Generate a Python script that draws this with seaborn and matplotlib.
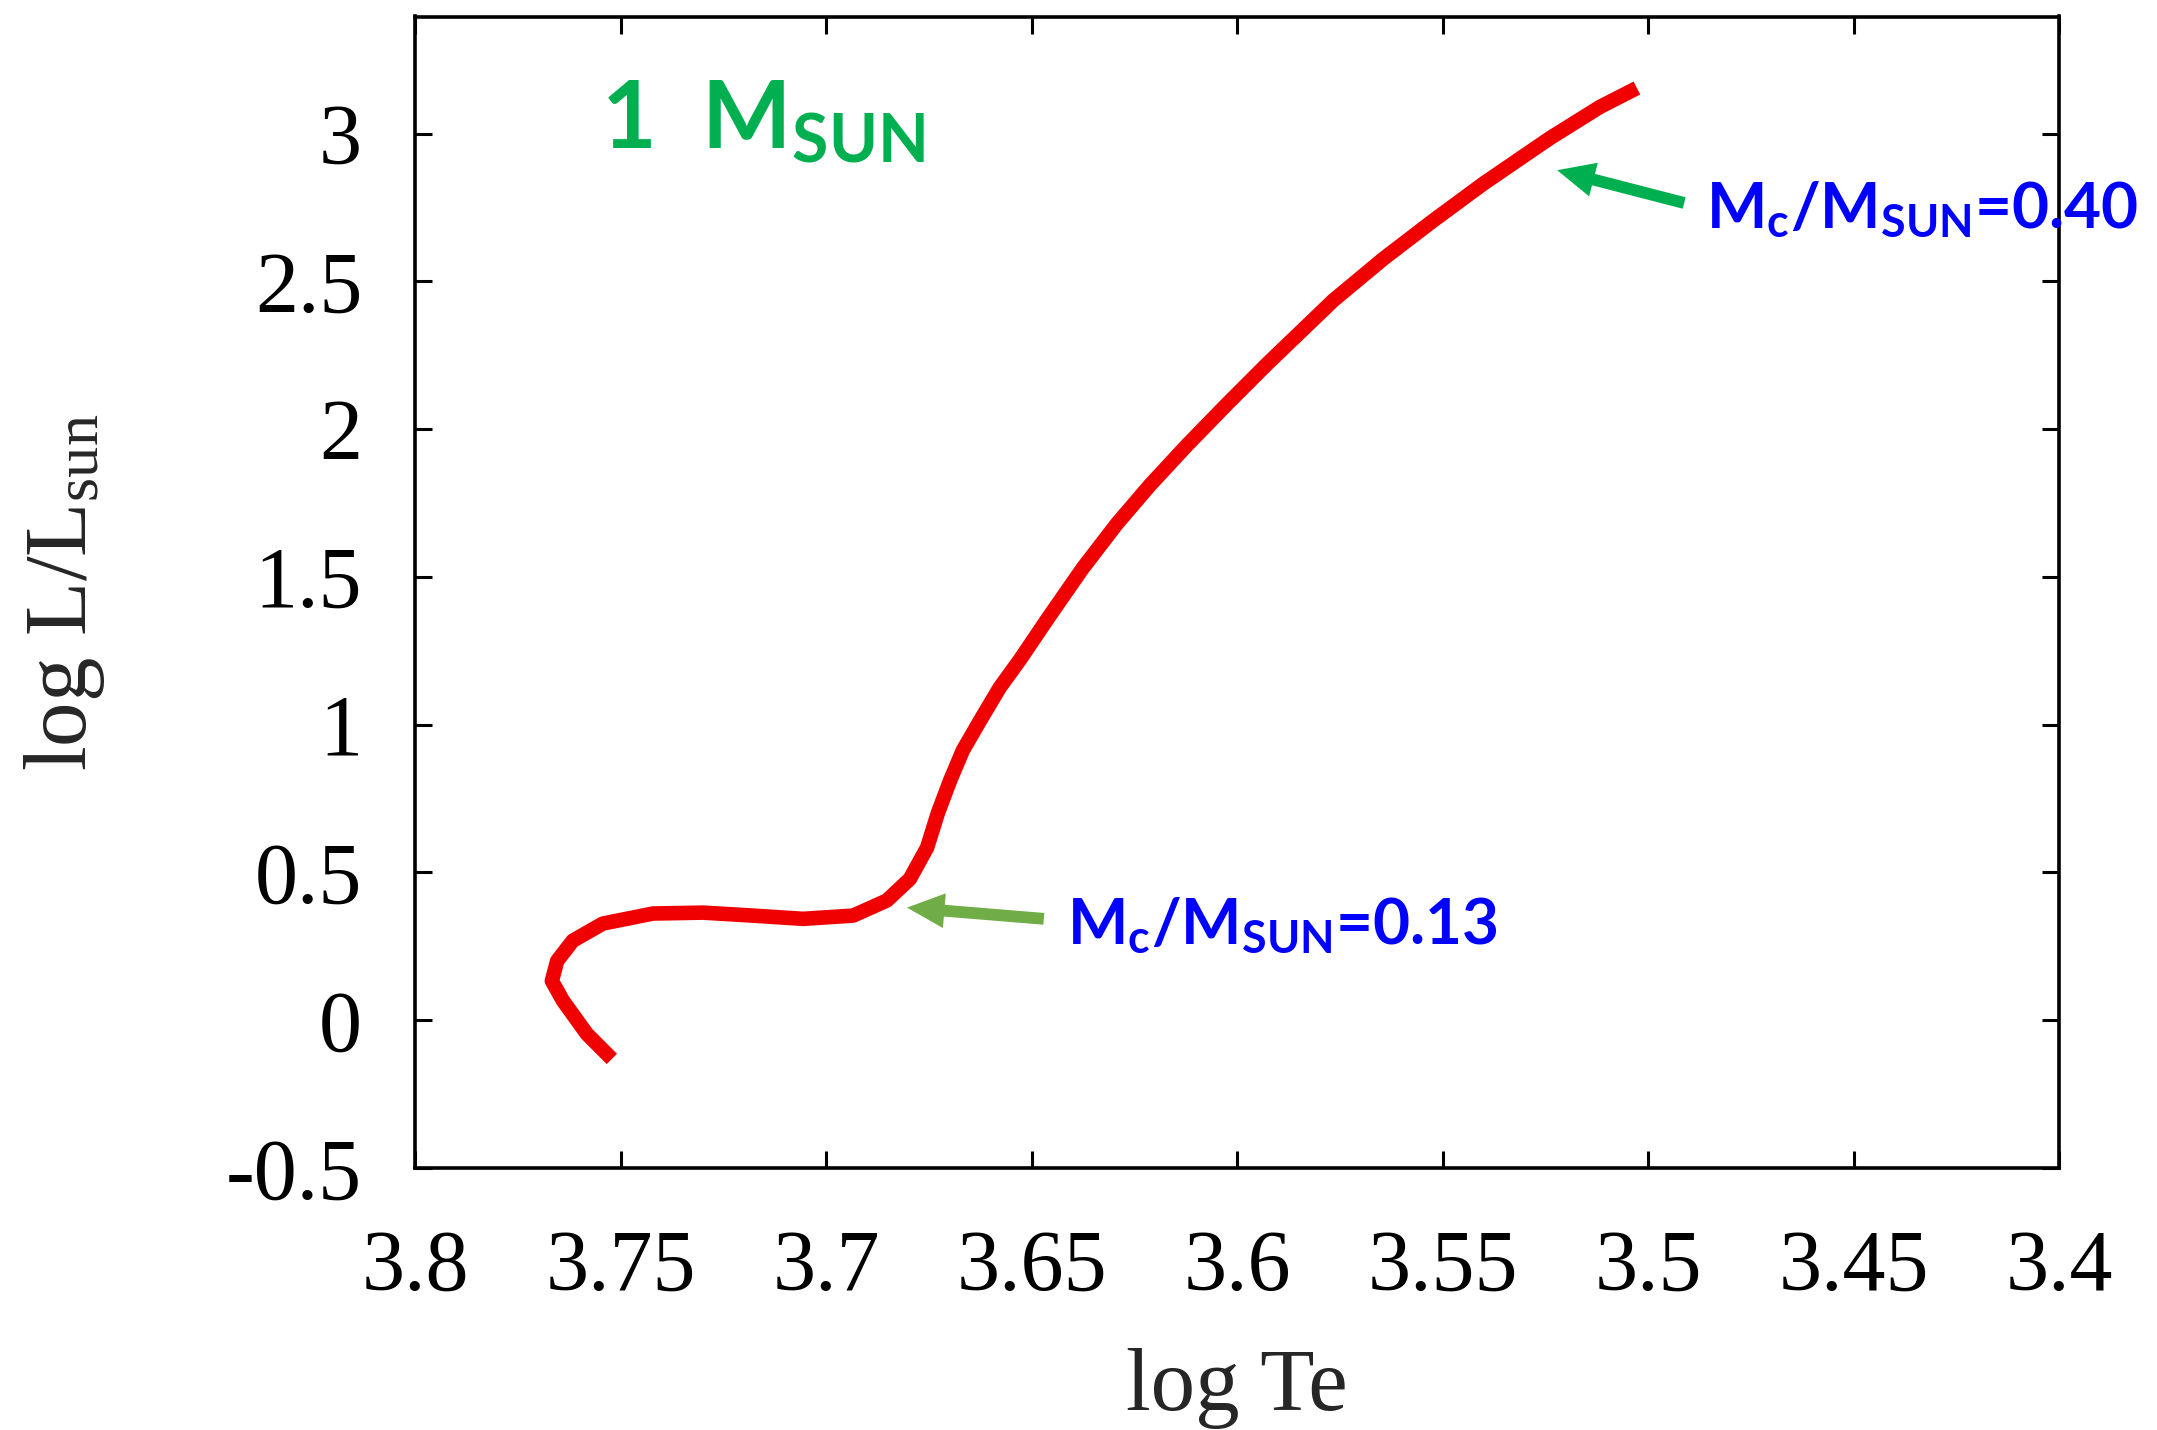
import matplotlib
matplotlib.use('Agg')
import matplotlib.pyplot as plt
import seaborn as sns
import pandas as pd

# Evolutionary track of a 1 solar-mass star
log_te = [3.7521, 3.7582, 3.7640, 3.7667, 3.7654, 3.7616, 3.7543, 3.7421, 3.7299,
          3.7178, 3.7056, 3.6934, 3.6852, 3.6796, 3.6754, 3.6728, 3.6698, 3.6667,
          3.6625, 3.6577, 3.6528, 3.6460, 3.6375, 3.6292, 3.6212, 3.6122, 3.6024,
          3.5927, 3.5766, 3.5645, 3.5523, 3.5401, 3.5238, 3.5117, 3.5027]
log_l = [-0.131, -0.046, 0.066, 0.133, 0.201, 0.269, 0.327, 0.361, 0.364,
         0.354, 0.343, 0.354, 0.405, 0.478, 0.584, 0.700, 0.811, 0.913,
         1.014, 1.126, 1.220, 1.360, 1.530, 1.680, 1.810, 1.945, 2.085,
         2.220, 2.435, 2.575, 2.705, 2.830, 2.985, 3.090, 3.154]

x_ticks = [3.8, 3.75, 3.7, 3.65, 3.6, 3.55, 3.5, 3.45, 3.4]
x_tick_labels = ['3.8', '3.75', '3.7', '3.65', '3.6', '3.55', '3.5', '3.45', '3.4']
y_ticks = [-0.5, 0, 0.5, 1, 1.5, 2, 2.5, 3]
y_tick_labels = ['-0.5', '0', '0.5', '1', '1.5', '2', '2.5', '3']

mass_label = '1  $\\mathbf{M_{SUN}}$'
core_labels = ['$\\mathbf{M_c/M_{SUN}}$=0.40', '$\\mathbf{M_c/M_{SUN}}$=0.13']
label_pos = [(3.4859, 2.680), (3.6414, 0.259)]
arrow_tips = [(3.5221, 2.876), (3.6803, 0.381)]
arrow_tails = [(3.4912, 2.765), (3.6470, 0.343)]
arrow_colors = ['#00B050', '#70AD47']

sns.set_theme(style='ticks')
plt.rcParams['font.family'] = ['Liberation Serif', 'DejaVu Serif']
plt.rcParams['mathtext.fontset'] = 'custom'
plt.rcParams['mathtext.rm'] = 'Liberation Serif'
plt.rcParams['mathtext.it'] = 'Liberation Serif:italic'
plt.rcParams['mathtext.bf'] = 'Lato:bold'

W, H = 2157, 1430
fig = plt.figure(figsize=(W / 100, H / 100), dpi=100)
fig.patch.set_facecolor('white')
ax = fig.add_axes([415 / W, 1 - 1168 / H, (2059 - 415) / W, (1168 - 16.5) / H])
ax.set_facecolor('white')

df = pd.DataFrame({'logTe': log_te, 'logL': log_l})
sns.lineplot(data=df, x='logTe', y='logL', sort=False, estimator=None,
             color='#F00000', lw=10.5, ax=ax, solid_joinstyle='round',
             solid_capstyle='butt')

ax.set_xlim(3.8, 3.4)
ax.set_ylim(-0.5, 3.396)
ax.set_xticks(x_ticks, x_tick_labels)
ax.set_yticks(y_ticks, y_tick_labels)
ax.set_xlabel('')
ax.set_ylabel('')
ax.tick_params(direction='in', length=12, width=2.2, top=True, right=True,
               labelsize=62, colors='black')
ax.tick_params(axis='x', pad=44)
ax.tick_params(axis='y', pad=38)
for s in ax.spines.values():
    s.set_linewidth(2.6)
    s.set_color('black')
ax.grid(False)

fig.text(1237 / W, 1 - 1410 / H, 'log Te', ha='center', va='baseline', fontsize=64)
fig.text(65 / W, 1 - 592 / H, 'log L/L$_{\\mathrm{sun}}$', ha='center', va='center',
         rotation=90, fontsize=64)

ax.text(3.7547, 2.951, mass_label, color='#00B050', fontsize=68,
        family='Lato', weight='bold', va='baseline', ha='left')

for lab, (lx, ly), tip, tail, col in zip(core_labels, label_pos, arrow_tips,
                                         arrow_tails, arrow_colors):
    ax.text(lx, ly, lab, color='#0000FF', fontsize=46, family='Lato',
            weight='bold', va='baseline', ha='left', clip_on=False)
    ax.annotate('', xy=tip, xytext=tail,
                arrowprops=dict(arrowstyle='simple,head_length=27,head_width=25,tail_width=8.5',
                                mutation_scale=1, color=col, lw=0,
                                shrinkA=0, shrinkB=0), annotation_clip=False)

fig.savefig('out.png', dpi=100, facecolor='white')
